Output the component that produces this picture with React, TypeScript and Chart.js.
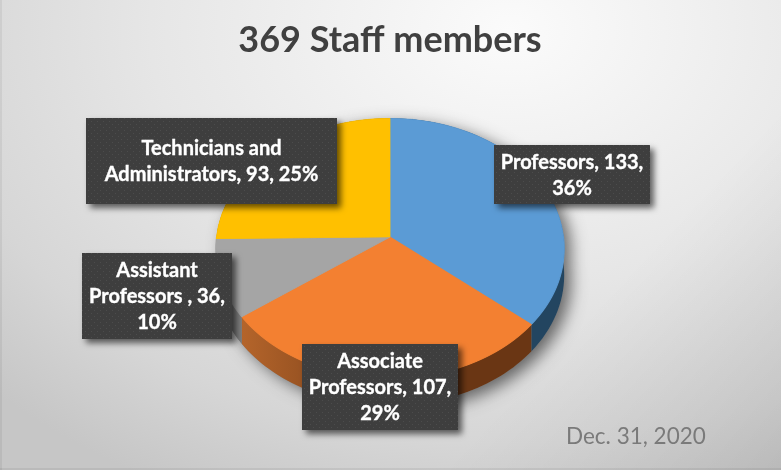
import React, { useEffect, useRef } from "react";
import { Chart, registerables } from "chart.js";

Chart.register(...registerables);

const CATEGORIES = ["Professors", "Associate Professors", "Assistant Professors ", "Technicians and Administrators"];
const VALUES = [133, 107, 36, 93];
const TITLE = "369 Staff members";
const DATE_NOTE = "Dec. 31, 2020";

const TOP_COLORS = ["#5B9BD5", "#F38031", "#A5A5A5", "#FFC000"];
const SIDE_COLORS = ["#234560", "#6A3614", "#7C7C7C", "#8A6A00"];

// Label box rectangles [x, y, w, h] in slice order
const LABEL_BOXES = [
  [494, 145, 156, 59],
  [302, 344, 156, 86],
  [82, 253, 150, 86],
  [86, 118, 251, 86],
];

const W = 781;
const H = 470;
const FONT = "Lato";

// Tilted-disc view: a projective map of the flat pie onto the page
const APEX_Y = 237;
const TILT = 0.744;
const VIEW_DIST = 1979;
const DEPTH = 27;

const persp = (t: number) => 1 / (1 - t / VIEW_DIST);

function project(cx: number, x: number, t: number): [number, number] {
  const k = persp(t);
  return [cx + x * k, APEX_Y + TILT * t * k];
}

function makeDots(ctx: CanvasRenderingContext2D) {
  const c = document.createElement("canvas");
  c.width = 6;
  c.height = 6;
  const g = c.getContext("2d")!;
  g.fillStyle = "#3E3E3E";
  g.fillRect(0, 0, 6, 6);
  g.fillStyle = "#4C4C4C";
  g.fillRect(1, 1, 1, 1);
  g.fillRect(4, 4, 1, 1);
  return ctx.createPattern(c, "repeat")!;
}

function wrap(ctx: CanvasRenderingContext2D, text: string, max: number) {
  const lines: string[] = [];
  let cur = "";
  for (const word of text.split(" ")) {
    const next = cur ? cur + " " + word : word;
    if (cur && ctx.measureText(next).width > max) {
      lines.push(cur);
      cur = word;
    } else cur = next;
  }
  if (cur) lines.push(cur);
  return lines;
}

const backdrop = {
  id: "backdrop",
  beforeDraw(chart: any) {
    const ctx: CanvasRenderingContext2D = chart.ctx;
    ctx.save();
    ctx.translate(510, 30);
    ctx.scale(1, 0.72);
    const g = ctx.createRadialGradient(0, 0, 0, 0, 0, 720);
    g.addColorStop(0, "#FBFBFB");
    g.addColorStop(0.5, "#E6E6E6");
    g.addColorStop(0.8, "#D6D6D6");
    g.addColorStop(1, "#C6C6C6");
    ctx.fillStyle = g;
    ctx.fillRect(-600, -100, 1500, 900);
    ctx.restore();
    const c = ctx.createLinearGradient(600, 300, 781, 470);
    c.addColorStop(0, "rgba(0,0,0,0)");
    c.addColorStop(1, "rgba(0,0,0,0.09)");
    ctx.fillStyle = c;
    ctx.fillRect(0, 0, W, H);
    ctx.fillStyle = "rgba(0,0,0,0.06)";
    ctx.fillRect(0, 0, 2, H);
    ctx.fillRect(0, H - 2, W, 2);
  },
};

const pie3d = {
  id: "pie3d",
  beforeDatasetDraw(chart: any, args: any) {
    const ctx: CanvasRenderingContext2D = chart.ctx;
    const meta = args.meta;
    const first = meta.data[0];
    const cx: number = first.x;
    const cy: number = first.y;
    const r: number = first.outerRadius;
    const edge = (a: number): [number, number] => project(cx, r * Math.cos(a), r * Math.sin(a));

    // drop shadow of the whole solid
    ctx.save();
    ctx.shadowColor = "rgba(0,0,0,0.55)";
    ctx.shadowBlur = 16;
    ctx.shadowOffsetX = 7;
    ctx.shadowOffsetY = 5;
    ctx.fillStyle = "#888";
    ctx.beginPath();
    const N = 180;
    for (let i = 0; i <= N; i++) {
      const a = (i / N) * Math.PI * 2;
      const [px, py] = edge(a);
      const lower = Math.sin(a) >= 0;
      ctx.lineTo(px, py + (lower ? DEPTH : 0));
    }
    ctx.closePath();
    ctx.fill();
    ctx.restore();

    // extruded side
    meta.data.forEach((arc: any, i: number) => {
      if (i === 1) {
        const g = ctx.createLinearGradient(cx - 150, 0, cx + 20, 0);
        g.addColorStop(0, "#B5652B");
        g.addColorStop(1, SIDE_COLORS[1]);
        ctx.fillStyle = g;
      } else ctx.fillStyle = SIDE_COLORS[i];
      ctx.beginPath();
      const steps = 60;
      const pts: [number, number][] = [];
      for (let s = 0; s <= steps; s++) {
        pts.push(edge(arc.startAngle + ((arc.endAngle - arc.startAngle) * s) / steps));
      }
      pts.forEach(([px, py]) => ctx.lineTo(px, py));
      pts.reverse().forEach(([px, py]) => ctx.lineTo(px, py + DEPTH));
      ctx.closePath();
      ctx.fill();
    });

    // top face: the library draws the arcs, one page row at a time under the local view map
    for (let Y = APEX_Y - 124; Y < APEX_Y + 152; Y++) {
      const dy = Y + 0.5 - APEX_Y;
      const t = dy / (TILT + dy / VIEW_DIST);
      const k = persp(t);
      ctx.save();
      ctx.beginPath();
      ctx.rect(0, Y, W, 1);
      ctx.clip();
      ctx.translate(cx, Y + 0.5);
      ctx.scale(k, TILT * k * k);
      ctx.translate(-cx, -(cy + t));
      meta.controller.draw();
      ctx.restore();
    }
    return false;
  },
};

const annotations = {
  id: "annotations",
  afterDatasetsDraw(chart: any) {
    const ctx: CanvasRenderingContext2D = chart.ctx;
    const total = VALUES.reduce((a, b) => a + b, 0);
    const dots = makeDots(ctx);
    ctx.save();
    ctx.font = `bold 20px ${FONT}`;
    ctx.textAlign = "center";
    ctx.textBaseline = "middle";
    CATEGORIES.forEach((cat, i) => {
      const [x, y, w, h] = LABEL_BOXES[i];
      ctx.save();
      ctx.shadowColor = "rgba(0,0,0,0.6)";
      ctx.shadowBlur = 6;
      ctx.shadowOffsetX = 4;
      ctx.shadowOffsetY = 4;
      ctx.fillStyle = dots;
      ctx.fillRect(x, y, w, h);
      ctx.restore();
      const text = `${cat}, ${VALUES[i]}, ${Math.round((VALUES[i] / total) * 100)}%`;
      const lines = wrap(ctx, text, w - 6);
      const lh = 26;
      const start = y + h / 2 - ((lines.length - 1) * lh) / 2 + 1;
      ctx.fillStyle = "#FFFFFF";
      ctx.strokeStyle = "#FFFFFF";
      ctx.lineWidth = 0.35;
      lines.forEach((ln, k) => {
        ctx.fillText(ln, x + w / 2, start + k * lh);
        ctx.strokeText(ln, x + w / 2, start + k * lh);
      });
    });
    ctx.font = `22.5px ${FONT}`;
    ctx.fillStyle = "#7A7A7A";
    ctx.textAlign = "left";
    ctx.textBaseline = "alphabetic";
    ctx.fillText(DATE_NOTE, 566, 444);
    ctx.restore();
  },
};

export default function App() {
  const ref = useRef<HTMLCanvasElement>(null);
  useEffect(() => {
    const chart = new Chart(ref.current!, {
      type: "pie",
      data: {
        labels: CATEGORIES,
        datasets: [
          {
            data: VALUES,
            backgroundColor: TOP_COLORS,
            borderColor: TOP_COLORS,
            borderWidth: 1,
          },
        ],
      },
      options: {
        responsive: false,
        animation: false,
        layout: { padding: { left: 216, right: 217, top: 0, bottom: 0 } },
        plugins: {
          legend: { display: false },
          tooltip: { enabled: false },
          title: {
            display: true,
            text: TITLE,
            color: "#404040",
            font: { family: FONT, size: 36, weight: "bold" },
            padding: { top: 19, bottom: 6 },
          },
        },
      },
      plugins: [backdrop, pie3d, annotations],
    } as any);
    return () => chart.destroy();
  }, []);
  return (
    <div style={{ position: "fixed", left: 0, top: 0, width: W, height: H }}>
      <canvas ref={ref} width={W} height={H} style={{ display: "block", width: W, height: H }} />
    </div>
  );
}
